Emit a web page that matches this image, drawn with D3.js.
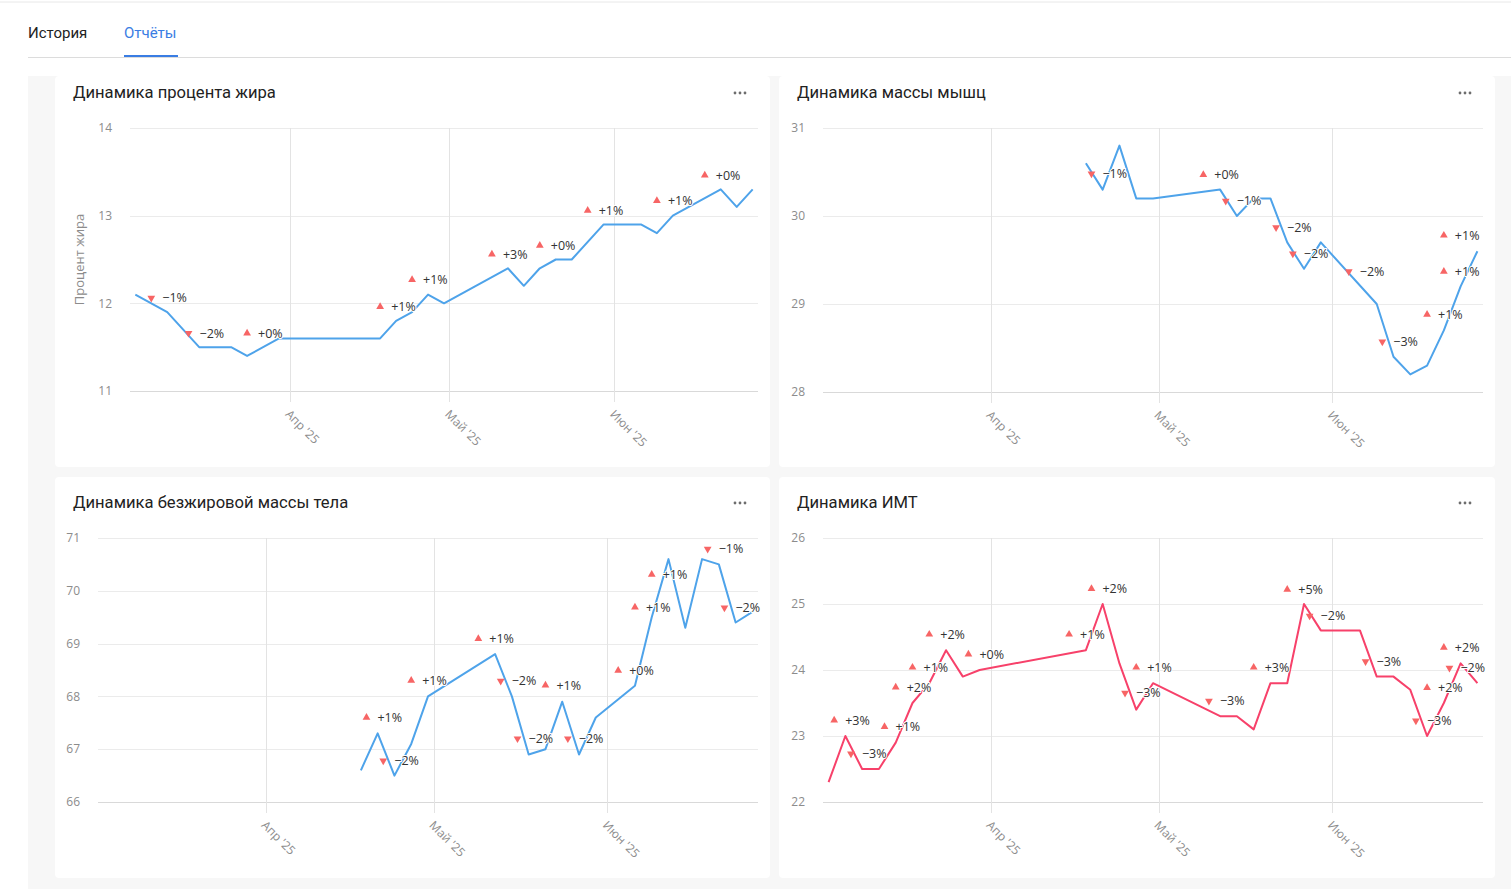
<!DOCTYPE html>
<html lang="ru">
<head>
<meta charset="utf-8">
<title>Отчёты</title>
<script src="https://cdnjs.cloudflare.com/ajax/libs/d3/7.8.5/d3.min.js"></script>
<style>
  body { margin: 0; background: #fff; }
  svg { display: block; }
  .tick-label { font-family: "Open Sans", sans-serif; font-size: 12px; fill: #8c8c8c; }
  .note { font-family: "Open Sans", sans-serif; font-size: 12.5px; fill: #333;
          stroke: #fff; stroke-width: 2px; paint-order: stroke; stroke-linejoin: round; }
  .title { font-family: Roboto, sans-serif; font-size: 16.6px; fill: #222; }
</style>
</head>
<body>
<svg id="page" width="1511" height="889"></svg>
<script>
// months on the x axis
var monthTicks = ["2025-04-01", "2025-05-01", "2025-06-01"];
var monthLabels = ["Апр '25", "Май '25", "Июн '25"];
var xStart = "2025-03-02", xEnd = "2025-06-28";

// Динамика процента жира
var fatDates = ["2025-03-03","2025-03-09","2025-03-15","2025-03-21","2025-03-24","2025-03-30","2025-04-18","2025-04-21","2025-04-24","2025-04-27","2025-04-30","2025-05-12","2025-05-15","2025-05-18","2025-05-21","2025-05-24","2025-05-30","2025-06-06","2025-06-09","2025-06-12","2025-06-21","2025-06-24","2025-06-27"];
var fatValues = [12.1,11.9,11.5,11.5,11.4,11.6,11.6,11.8,11.9,12.1,12.0,12.4,12.2,12.4,12.5,12.5,12.9,12.9,12.8,13.0,13.3,13.1,13.3];
var fatNoteDates = ["2025-03-06","2025-03-13","2025-03-24","2025-04-18","2025-04-24","2025-05-09","2025-05-18","2025-05-27","2025-06-09","2025-06-18"];
var fatNoteValues = [12.06,11.66,11.66,11.96,12.27,12.56,12.66,13.06,13.17,13.46];
var fatNoteLabels = ["−1%","−2%","+0%","+1%","+1%","+3%","+0%","+1%","+1%","+0%"];

// Динамика массы мышц
var muscleDates = ["2025-04-18","2025-04-21","2025-04-24","2025-04-27","2025-04-30","2025-05-12","2025-05-15","2025-05-18","2025-05-21","2025-05-24","2025-05-27","2025-05-30","2025-06-09","2025-06-12","2025-06-15","2025-06-18","2025-06-21","2025-06-24","2025-06-27"];
var muscleValues = [30.6,30.3,30.8,30.2,30.2,30.3,30.0,30.2,30.2,29.7,29.4,29.7,29.0,28.4,28.2,28.3,28.7,29.2,29.6];
var muscleNoteDates = ["2025-04-19","2025-05-09","2025-05-13","2025-05-22","2025-05-25","2025-06-04","2025-06-10","2025-06-18","2025-06-21","2025-06-21"];
var muscleNoteValues = [30.48,30.47,30.17,29.87,29.57,29.37,28.57,28.88,29.37,29.78];
var muscleNoteLabels = ["−1%","+0%","−1%","−2%","−2%","−2%","−3%","+1%","+1%","+1%"];

// Динамика безжировой массы тела
var leanDates = ["2025-04-18","2025-04-21","2025-04-24","2025-04-27","2025-04-30","2025-05-12","2025-05-15","2025-05-18","2025-05-21","2025-05-24","2025-05-27","2025-05-30","2025-06-06","2025-06-09","2025-06-12","2025-06-15","2025-06-18","2025-06-21","2025-06-24","2025-06-27"];
var leanValues = [66.6,67.3,66.5,67.1,68.0,68.8,68.0,66.9,67.0,67.9,66.9,67.6,68.2,69.5,70.6,69.3,70.6,70.5,69.4,69.6];
var leanNoteDates = ["2025-04-19","2025-04-22","2025-04-27","2025-05-09","2025-05-13","2025-05-16","2025-05-21","2025-05-25","2025-06-03","2025-06-06","2025-06-09","2025-06-19","2025-06-22"];
var leanNoteValues = [67.6,66.78,68.3,69.09,68.29,67.2,68.21,67.2,68.49,69.69,70.31,70.79,69.68];
var leanNoteLabels = ["+1%","−2%","+1%","+1%","−2%","−2%","+1%","−2%","+0%","+1%","+1%","−1%","−2%"];

// Динамика ИМТ
var bmiDates = ["2025-03-03","2025-03-06","2025-03-09","2025-03-12","2025-03-15","2025-03-18","2025-03-21","2025-03-24","2025-03-27","2025-03-30","2025-04-18","2025-04-21","2025-04-24","2025-04-27","2025-04-30","2025-05-12","2025-05-15","2025-05-18","2025-05-21","2025-05-24","2025-05-27","2025-05-30","2025-06-06","2025-06-09","2025-06-12","2025-06-15","2025-06-18","2025-06-21","2025-06-24","2025-06-27"];
var bmiValues = [22.3,23.0,22.5,22.5,22.9,23.5,23.8,24.3,23.9,24.0,24.3,25.0,24.1,23.4,23.8,23.3,23.3,23.1,23.8,23.8,25.0,24.6,24.6,23.9,23.9,23.7,23.0,23.5,24.1,23.8];
var bmiNoteDates = ["2025-03-04","2025-03-07","2025-03-13","2025-03-15","2025-03-18","2025-03-21","2025-03-28","2025-04-15","2025-04-19","2025-04-25","2025-04-27","2025-05-10","2025-05-18","2025-05-24","2025-05-28","2025-06-07","2025-06-16","2025-06-18","2025-06-21","2025-06-22"];
var bmiNoteValues = [23.24,22.73,23.14,23.74,24.04,24.54,24.24,24.54,25.23,23.65,24.04,23.53,24.04,25.22,24.82,24.13,23.23,23.73,24.34,24.03];
var bmiNoteLabels = ["+3%","−3%","+1%","+2%","+1%","+2%","+0%","+1%","+2%","−3%","+1%","−3%","+3%","+5%","−2%","−3%","−3%","+2%","+2%","−2%"];

var parse = d3.timeParse("%Y-%m-%d");
var svg = d3.select("#page");

// page chrome: top border, tabs
svg.append("line").attr("x1", 0).attr("x2", 1511).attr("y1", 2).attr("y2", 2).attr("stroke", "#e8e8e8");
svg.append("text").attr("x", 28).attr("y", 38).text("История")
  .style("font-family", "Roboto, sans-serif").style("font-size", "15px").attr("fill", "#222");
svg.append("text").attr("x", 124).attr("y", 38).text("Отчёты")
  .style("font-family", "Roboto, sans-serif").style("font-size", "15px").attr("fill", "#3a7de3");
svg.append("line").attr("x1", 28).attr("x2", 1511).attr("y1", 57.5).attr("y2", 57.5).attr("stroke", "#dcdcdc");
svg.append("rect").attr("x", 124).attr("y", 55).attr("width", 54).attr("height", 2).attr("fill", "#3a7de3");

// grey dashboard background
svg.append("rect").attr("x", 28).attr("y", 76).attr("width", 1483).attr("height", 813).attr("fill", "#f7f7f7");

function drawChart(o) {
  var g = svg.append("g");
  g.append("rect").attr("x", o.px).attr("y", o.py).attr("width", o.pw).attr("height", o.ph)
    .attr("rx", 4).attr("fill", "#fff");
  g.append("text").attr("class", "title").attr("x", o.px + 18).attr("y", o.titleY + 6).text(o.title);
  // "..." menu
  g.selectAll(".dot").data([0, 1, 2]).enter().append("circle")
    .attr("cx", function(d) { return o.px + o.pw - 35 + d * 5; })
    .attr("cy", o.titleY + 1).attr("r", 1.4).attr("fill", "#6d6d6d");

  var x = d3.scaleTime().domain([parse(xStart), parse(xEnd)]).range([o.left, o.right]);
  var y = d3.scaleLinear().domain(o.domain).range([o.bottom, o.top]);
  var yTicks = d3.range(o.domain[0], o.domain[1] + 1);

  // horizontal grid + y labels
  g.selectAll(".hgrid").data(yTicks).enter().append("line")
    .attr("x1", o.left).attr("x2", o.right)
    .attr("y1", function(d) { return Math.round(y(d)) + 0.5; })
    .attr("y2", function(d) { return Math.round(y(d)) + 0.5; })
    .attr("stroke", function(d) { return d === o.domain[0] ? "#d9d9d9" : "#ebebeb"; });
  g.selectAll(".ylab").data(yTicks).enter().append("text").attr("class", "tick-label")
    .attr("x", o.left - 18).attr("y", function(d) { return y(d); }).attr("dy", "0.35em")
    .attr("text-anchor", "end").text(function(d) { return d; });

  // month grid + rotated labels
  var months = monthTicks.map(parse);
  g.selectAll(".vgrid").data(months).enter().append("line")
    .attr("x1", function(d) { return Math.round(x(d)) + 0.5; })
    .attr("x2", function(d) { return Math.round(x(d)) + 0.5; })
    .attr("y1", o.top).attr("y2", o.bottom + 11).attr("stroke", "#e3e3e3");
  g.selectAll(".xlab").data(months).enter().append("text").attr("class", "tick-label")
    .attr("transform", function(d) { return "translate(" + (x(d) - 5) + "," + (o.bottom + 24) + ") rotate(45)"; })
    .text(function(d, i) { return monthLabels[i]; });

  if (o.axisTitle) {
    g.append("text").attr("class", "tick-label").style("font-size", "13px").attr("fill", "#999")
      .attr("transform", "translate(" + (o.px + 24) + "," + ((o.top + o.bottom) / 2) + ") rotate(-90)")
      .attr("text-anchor", "middle").attr("dy", "0.35em").text(o.axisTitle);
  }

  // series
  var pts = o.dates.map(function(d, i) { return { date: parse(d), value: o.values[i] }; });
  var line = d3.line().x(function(d) { return x(d.date); }).y(function(d) { return y(d.value); });
  g.append("path").datum(pts).attr("d", line).attr("fill", "none")
    .attr("stroke", o.color).attr("stroke-width", 2).attr("stroke-linejoin", "round");

  // weekly change notes
  var notes = o.noteDates.map(function(d, i) {
    return { date: parse(d), value: o.noteValues[i], label: o.noteLabels[i] };
  });
  var tri = d3.symbol().type(d3.symbolTriangle).size(26);
  g.selectAll(".tri").data(notes).enter().append("path").attr("d", tri)
    .attr("fill", "#f76565")
    .attr("transform", function(d) {
      var up = d.label.charAt(0) === "+";
      return "translate(" + x(d.date) + "," + y(d.value) + ")" + (up ? "" : " rotate(180)");
    });
  g.selectAll(".note").data(notes).enter().append("text").attr("class", "note")
    .attr("x", function(d) { return x(d.date) + 11; })
    .attr("y", function(d) { return y(d.value); }).attr("dy", "0.35em")
    .text(function(d) { return d.label; });
}

drawChart({ px: 55, py: 76, pw: 715, ph: 391, titleY: 92, title: "Динамика процента жира", axisTitle: "Процент жира",
  left: 130, right: 758, top: 128, bottom: 391, domain: [11, 14], color: "#4ea3ea",
  dates: fatDates, values: fatValues, noteDates: fatNoteDates, noteValues: fatNoteValues, noteLabels: fatNoteLabels });
drawChart({ px: 779, py: 76, pw: 716, ph: 391, titleY: 92, title: "Динамика массы мышц",
  left: 823, right: 1483, top: 128, bottom: 392, domain: [28, 31], color: "#4ea3ea",
  dates: muscleDates, values: muscleValues, noteDates: muscleNoteDates, noteValues: muscleNoteValues, noteLabels: muscleNoteLabels });
drawChart({ px: 55, py: 477, pw: 715, ph: 401, titleY: 502, title: "Динамика безжировой массы тела",
  left: 98, right: 758, top: 538, bottom: 802, domain: [66, 71], color: "#4ea3ea",
  dates: leanDates, values: leanValues, noteDates: leanNoteDates, noteValues: leanNoteValues, noteLabels: leanNoteLabels });
drawChart({ px: 779, py: 477, pw: 716, ph: 401, titleY: 502, title: "Динамика ИМТ",
  left: 823, right: 1483, top: 538, bottom: 802, domain: [22, 26], color: "#f7416a",
  dates: bmiDates, values: bmiValues, noteDates: bmiNoteDates, noteValues: bmiNoteValues, noteLabels: bmiNoteLabels });
</script>
</body>
</html>
